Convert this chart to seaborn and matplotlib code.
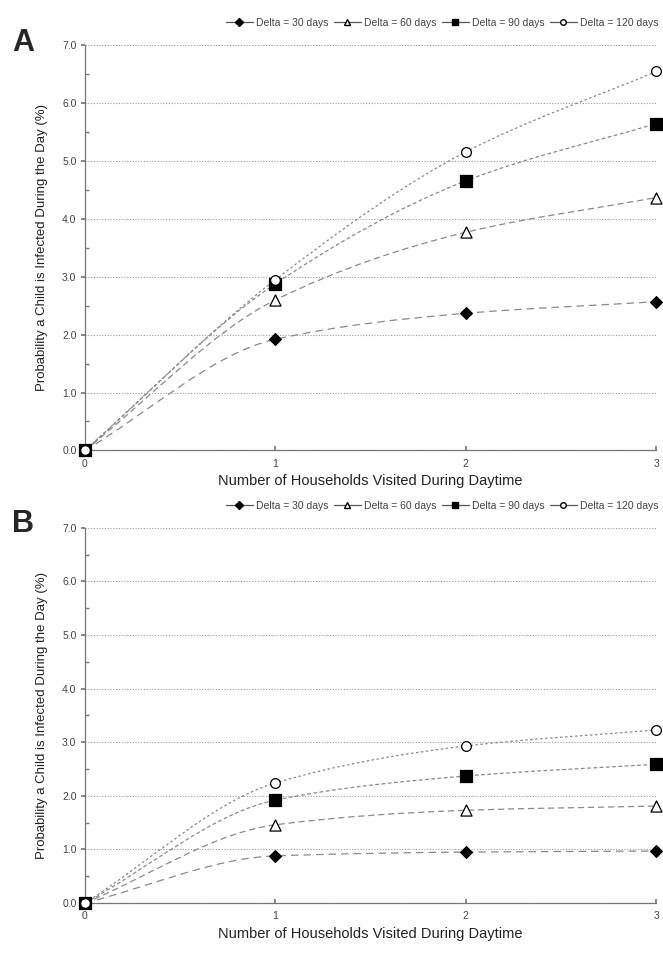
import numpy as np
import pandas as pd
import matplotlib
matplotlib.use("Agg")
import matplotlib.pyplot as plt
from matplotlib.path import Path
from matplotlib.patches import PathPatch
from matplotlib.lines import Line2D
import seaborn as sns

sns.set_theme(style="white")
plt.rcParams["font.family"] = ["Liberation Sans", "DejaVu Sans"]

households = [0, 1, 2, 3]
series_names = ["Delta = 30 days", "Delta = 60 days", "Delta = 90 days", "Delta = 120 days"]

# Panel A
a_delta30 = [0.0, 1.92, 2.37, 2.57]
a_delta60 = [0.0, 2.60, 3.77, 4.37]
a_delta90 = [0.0, 2.88, 4.66, 5.65]
a_delta120 = [0.0, 2.95, 5.16, 6.55]

# Panel B
b_delta30 = [0.0, 0.88, 0.95, 0.97]
b_delta60 = [0.0, 1.46, 1.73, 1.81]
b_delta90 = [0.0, 1.92, 2.37, 2.59]
b_delta120 = [0.0, 2.24, 2.93, 3.23]

y_ticks = [0, 1, 2, 3, 4, 5, 6, 7]

markers = {"Delta = 30 days": "D", "Delta = 60 days": "^",
           "Delta = 90 days": "s", "Delta = 120 days": "o"}
faces = {"Delta = 30 days": "black", "Delta = 60 days": "white",
         "Delta = 90 days": "black", "Delta = 120 days": "white"}
sizes = {"Delta = 30 days": 6, "Delta = 60 days": 8,
         "Delta = 90 days": 8, "Delta = 120 days": 7}
dashes = {"Delta = 30 days": (0, (6, 4)), "Delta = 60 days": (0, (5, 3)),
          "Delta = 90 days": (0, (3, 2)), "Delta = 120 days": (0, (2, 2))}


def smooth_path(ax, xs, ys, **kw):
    """Draw a monotone cubic (Fritsch-Carlson) curve through the points as Bezier segments."""
    xs = np.asarray(xs, float)
    ys = np.asarray(ys, float)
    n = len(xs)
    h = np.diff(xs)
    d = np.diff(ys) / h
    m = np.zeros(n)
    m[0] = d[0]
    m[-1] = d[-1]
    for i in range(1, n - 1):
        if d[i - 1] * d[i] <= 0:
            m[i] = 0.0
        else:
            w1 = 2 * h[i] + h[i - 1]
            w2 = h[i] + 2 * h[i - 1]
            m[i] = (w1 + w2) / (w1 / d[i - 1] + w2 / d[i])
    verts = [(xs[0], ys[0])]
    codes = [Path.MOVETO]
    for i in range(n - 1):
        c1 = (xs[i] + h[i] / 3, ys[i] + m[i] * h[i] / 3)
        c2 = (xs[i + 1] - h[i] / 3, ys[i + 1] - m[i + 1] * h[i] / 3)
        verts += [c1, c2, (xs[i + 1], ys[i + 1])]
        codes += [Path.CURVE4] * 3
    patch = PathPatch(Path(verts, codes), facecolor="none", **kw)
    ax.add_patch(patch)


def draw_panel(ax, values):
    df = pd.DataFrame({
        "Households": households * 4,
        "Probability": sum(values, []),
        "Series": [s for s in series_names for _ in households],
    })
    for name, vals in zip(series_names, values):
        smooth_path(ax, households, vals, edgecolor="#8a8a8a", lw=0.9,
                    linestyle=dashes[name], clip_on=False, zorder=2)
    for name in series_names:
        sub = df[df["Series"] == name]
        sns.scatterplot(data=sub, x="Households", y="Probability", ax=ax,
                        marker=markers[name], s=sizes[name] ** 2,
                        color=faces[name], edgecolor="black", linewidth=0.9,
                        clip_on=False, zorder=3, legend=False)
    ax.set_xlim(0, 3)
    ax.set_ylim(0, 7)
    ax.set_xticks(households)
    ax.set_xticklabels([str(h) for h in households], fontsize=7.5, color="#444444")
    ax.set_yticks(y_ticks)
    ax.set_yticklabels([f"{v:.1f}" for v in y_ticks], fontsize=7.5, color="#444444")
    ax.set_yticks(np.arange(0.5, 7, 1.0), minor=True)
    ax.tick_params(axis="both", which="both", direction="in", length=3,
                   color="#777777", left=True, bottom=True, pad=6)
    ax.tick_params(axis="y", which="major", direction="out", length=3, pad=3)
    ax.grid(axis="y", which="major", linestyle=(0, (1, 1.5)), color="#9a9a9a", lw=0.8)
    ax.set_axisbelow(True)
    for side in ["top", "right"]:
        ax.spines[side].set_visible(False)
    for side in ["left", "bottom"]:
        ax.spines[side].set_color("#777777")
        ax.spines[side].set_linewidth(0.9)
    ax.set_xlabel("Number of Households Visited During Daytime", fontsize=10.5,
                  color="#222222", labelpad=4)
    ax.set_ylabel("Probability a Child is Infected During the Day (%)", fontsize=9.5,
                  color="#222222", labelpad=10)
    handles = [Line2D([0], [0], color="#555555", lw=0.9, marker=markers[n],
                      markersize=4, markerfacecolor=faces[n],
                      markeredgecolor="black") for n in series_names]
    ax.legend(handles, series_names, loc="lower center", bbox_to_anchor=(0.625, 1.02),
              ncol=4, frameon=False, fontsize=7.5, handlelength=2.6,
              handletextpad=0.3, columnspacing=0.5, labelcolor="#444444")


fig = plt.figure(figsize=(6.63, 9.77), dpi=100)
ax_a = fig.add_axes([0.128, 0.539, 0.862, 0.4145])
ax_b = fig.add_axes([0.128, 0.0757, 0.862, 0.384])

draw_panel(ax_a, [a_delta30, a_delta60, a_delta90, a_delta120])
draw_panel(ax_b, [b_delta30, b_delta60, b_delta90, b_delta120])

fig.text(0.018, 1 - 43 / 977, "A", fontsize=22, fontweight="bold", ha="left", va="center")
fig.text(0.018, 1 - 524 / 977, "B", fontsize=22, fontweight="bold", ha="left", va="center")

fig.savefig("out.png", dpi=100)
